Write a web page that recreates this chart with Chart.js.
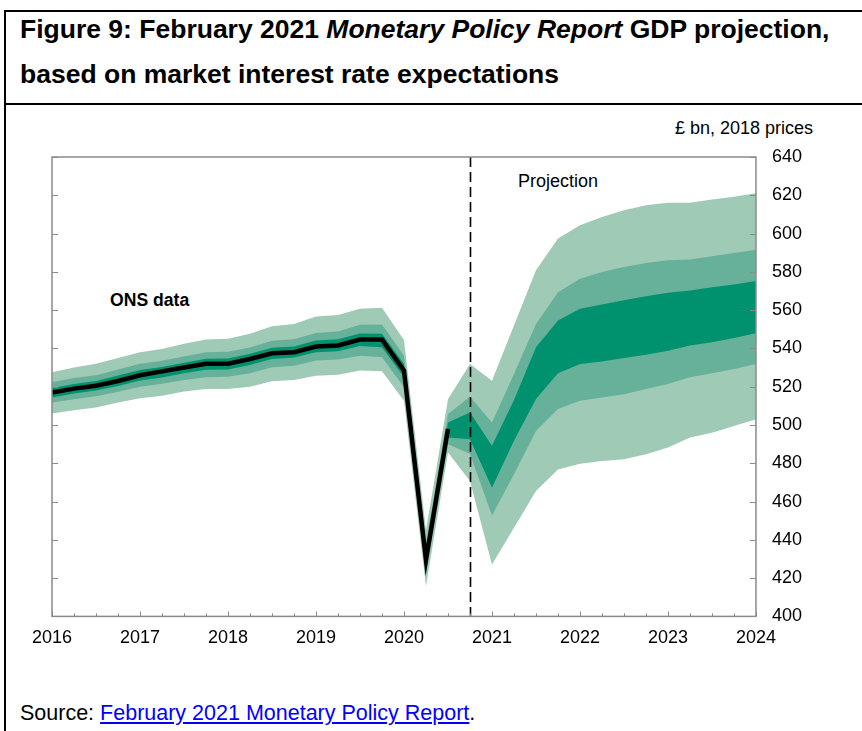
<!DOCTYPE html>
<html>
<head>
<meta charset="utf-8">
<script src="https://cdn.jsdelivr.net/npm/chart.js@4/dist/chart.umd.min.js"></script>
<style>
  html, body { margin:0; padding:0; background:#fff; }
  body { width:862px; height:731px; position:relative; overflow:hidden; font-family:"Liberation Sans", Arial, sans-serif; color:#000; }
  .titlebox { position:absolute; left:4px; top:10px; width:900px; height:91px; border:2px solid #000; }
  .leftrule { position:absolute; left:4px; top:103px; width:0; height:640px; border-left:2px solid #000; }
  .title { position:absolute; left:20px; font-weight:bold; font-size:26.5px; line-height:26.5px; white-space:nowrap; }
  .units { position:absolute; right:49px; top:119px; font-size:18px; line-height:18px; white-space:nowrap; }
  .ann { position:absolute; font-size:18px; line-height:18px; white-space:nowrap; }
  .source { position:absolute; left:20px; top:703px; font-size:21.5px; line-height:21.5px; white-space:nowrap; }
  .source a { color:#0000ff; text-decoration:underline; }
  #wrap { position:absolute; left:0; top:105px; width:862px; height:626px; }
</style>
</head>
<body>
<div class="titlebox"></div>
<div class="leftrule"></div>
<div class="title" style="top:16px">Figure 9: February 2021 <i>Monetary Policy Report</i> GDP projection,</div>
<div class="title" style="top:61px">based on market interest rate expectations</div>
<div class="units">£ bn, 2018 prices</div>
<div class="ann" style="left:110px;top:291px;font-weight:bold;font-size:17.6px">ONS data</div>
<div class="ann" style="left:518px;top:172px">Projection</div>
<div class="source">Source: <a href="#">February 2021 Monetary Policy Report</a>.</div>
<div id="wrap"><canvas id="c" width="862" height="626"></canvas></div>
<script>
// Quarterly time points (decimal years)
const quarters = [2016, 2016.25, 2016.5, 2016.75, 2017, 2017.25, 2017.5, 2017.75,
  2018, 2018.25, 2018.5, 2018.75, 2019, 2019.25, 2019.5, 2019.75,
  2020, 2020.25, 2020.5, 2020.75, 2021, 2021.25, 2021.5, 2021.75,
  2022, 2022.25, 2022.5, 2022.75, 2023, 2023.25, 2023.5, 2023.75, 2024];

// ONS data (GDP, £bn 2018 prices), 2016 Q1 to 2020 Q3
const onsGdp = [517, 519, 520.5, 523, 526, 528, 530, 532, 532, 534.5, 537.5, 538,
  541, 541.5, 544.6, 544.6, 528.4, 429.5, 498];

// Fan chart band boundaries
const lightUpper = [527.5, 530, 532, 535, 538, 539.7, 542.4, 544.6, 545, 547.6, 551.6, 552.8,
  556.7, 557.5, 560.7, 561.2, 544.4, 445, 513.5,
  531.9, 523.1, 552, 580.8, 597.4, 604.4, 608.7, 612.2, 614.8, 616.1, 616.1, 617.8, 619.2, 621];
const mediumUpper = [522.3, 524.5, 526, 529, 532, 533.5, 535.8, 538, 538.2, 540.5, 544, 544.8,
  548, 548.8, 552.3, 552.5, 536.2, 438, 505.7,
  514.8, 501.3, 526.6, 552.8, 569.4, 576.4, 579.9, 582.5, 584.6, 586, 586.4, 588.1, 589.9, 591.6];
const darkUpper = [519.3, 521.4, 523, 525.8, 528.7, 530.3, 532.5, 534.6, 534.7, 537.2, 540.4, 541,
  544.2, 544.8, 547.8, 547.6, 531.9, 433, 501.3,
  506.5, 489.1, 513, 540.6, 554.6, 560.7, 563, 565.1, 567.3, 569.1, 570.3, 572, 573.4, 575.2];
const darkLower = [514.4, 516.4, 518, 520.4, 523.3, 524.8, 527, 528.8, 529, 531.4, 534.5, 535.2,
  538, 538.5, 541.3, 540.6, 524.9, 426, 493.4,
  492.6, 467.2, 491.7, 513.6, 527, 531.9, 533.2, 535, 536.7, 538.8, 541.5, 543.2, 545.5, 547.9];
const mediumLower = [511.7, 513.5, 515, 517.3, 520, 521.5, 523.5, 525, 525.2, 527, 530.2, 531,
  533.7, 534.2, 536.2, 535.4, 519.7, 423, 490,
  485, 452.7, 474.2, 496.9, 508.3, 512.6, 514.4, 516.1, 518.8, 521.4, 524.9, 527, 529.3, 531.9];
const lightLower = [506, 507.7, 509.1, 511.7, 514, 515.3, 517.5, 518.8, 518.8, 520, 522.8, 523.5,
  525.7, 526.3, 528.4, 528.1, 512.6, 415.7, 485.6,
  470.7, 427.1, 446.3, 465.5, 476.8, 479.8, 481.2, 482.1, 484.7, 488.2, 493.4, 496, 499.5, 503];

const projectionStart = 2020.75;
const yearTicks = [2016, 2017, 2018, 2019, 2020, 2021, 2022, 2023, 2024];
const valueTicks = [400, 420, 440, 460, 480, 500, 520, 540, 560, 580, 600, 620, 640];

const COL_DARK = '#00926e';
const COL_MED = '#67b19a';
const COL_LIGHT = '#9fcab6';
const AXIS_GREY = '#8a8a8a';

const pts = arr => arr.map((v, i) => ({ x: quarters[i], y: v }));

const band = (data, color, fill) => ({
  data: pts(data), borderWidth: 0, pointRadius: 0, backgroundColor: color,
  borderColor: 'transparent', fill: fill, tension: 0
});

const framePlugin = {
  id: 'frame',
  afterDatasetsDraw(chart) {
    const { ctx, chartArea: a, scales } = chart;
    const xs = scales.x, ys = scales.y;
    ctx.save();
    // projection divider
    const px = Math.round(xs.getPixelForValue(projectionStart)) + 0.5;
    ctx.strokeStyle = '#000';
    ctx.lineWidth = 1.6;
    ctx.setLineDash([10, 5]);
    ctx.beginPath();
    ctx.moveTo(px, a.top);
    ctx.lineTo(px, a.bottom);
    ctx.stroke();
    ctx.setLineDash([]);
    // plot frame
    ctx.strokeStyle = AXIS_GREY;
    ctx.lineWidth = 1.5;
    ctx.strokeRect(a.left, a.top, a.right - a.left, a.bottom - a.top);
    // inward ticks on left and right axes
    ctx.lineWidth = 1;
    ctx.beginPath();
    valueTicks.forEach(v => {
      const y = Math.round(ys.getPixelForValue(v)) + 0.5;
      ctx.moveTo(a.left, y); ctx.lineTo(a.left + 6, y);
      ctx.moveTo(a.right, y); ctx.lineTo(a.right - 6, y);
    });
    // inward ticks on bottom axis
    quarters.forEach(q => {
      const x = Math.round(xs.getPixelForValue(q)) + 0.5;
      const len = Number.isInteger(q) ? 5 : 3;
      ctx.moveTo(x, a.bottom); ctx.lineTo(x, a.bottom - len);
    });
    ctx.stroke();
    ctx.restore();
  }
};

new Chart(document.getElementById('c'), {
  type: 'line',
  data: {
    datasets: [
      { label: 'ONS data', data: pts(onsGdp), borderColor: '#000', borderWidth: 4.5,
        pointRadius: 0, fill: false, tension: 0, borderJoinStyle: 'miter', borderCapStyle: 'butt' },
      band(darkUpper, COL_DARK, '+1'),
      band(darkLower, COL_DARK, false),
      band(mediumUpper, COL_MED, '+1'),
      band(mediumLower, COL_MED, false),
      band(lightUpper, COL_LIGHT, '+1'),
      band(lightLower, COL_LIGHT, false)
    ]
  },
  options: {
    responsive: false,
    devicePixelRatio: 1,
    animation: false,
    layout: { padding: { left: 52, top: 52, right: 44, bottom: 71 } },
    plugins: { legend: { display: false }, tooltip: { enabled: false } },
    scales: {
      x: {
        type: 'linear', position: 'bottom', min: 2016, max: 2024,
        afterBuildTicks: s => { s.ticks = yearTicks.map(v => ({ value: v })); },
        ticks: { callback: v => String(v), color: '#000', padding: 11,
          font: { family: '"Liberation Sans", Arial, sans-serif', size: 18 }, maxRotation: 0, autoSkip: false },
        grid: { display: false, drawTicks: false },
        border: { display: false }
      },
      y: {
        type: 'linear', position: 'right', min: 400, max: 640,
        afterBuildTicks: s => { s.ticks = valueTicks.map(v => ({ value: v })); },
        ticks: { callback: v => String(v), color: '#000', padding: 16,
          font: { family: '"Liberation Sans", Arial, sans-serif', size: 18 } },
        grid: { display: false, drawTicks: false },
        border: { display: false }
      }
    }
  },
  plugins: [framePlugin]
});
</script>
</body>
</html>
